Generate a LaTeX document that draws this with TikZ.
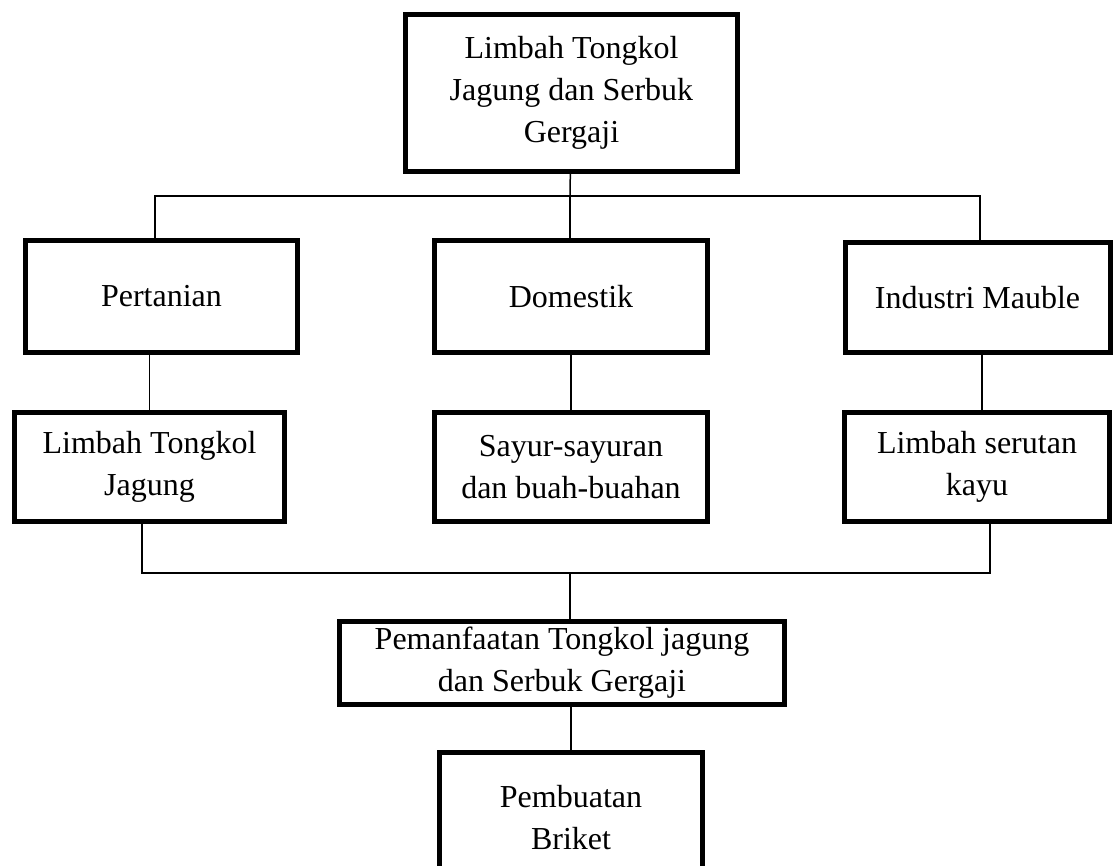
\documentclass[tikz,border=0pt]{standalone}
\usepackage{fontspec}
\setmainfont{Liberation Serif}
\usepackage{tikz}

\begin{document}
\begin{tikzpicture}[x=1pt,y=-1pt,
 box/.style={draw,line width=5pt,align=center,inner sep=0pt},
 link/.style={line width=1.5pt},
 font=\fontsize{32}{42}\selectfont]
\useasboundingbox (0,0) rectangle (1114,866);
\node[box,minimum width=332,minimum height=157] (A0) at (571.5,93) {Limbah Tongkol\\Jagung dan Serbuk\\Gergaji};
 \node[box,minimum width=272,minimum height=112] (B1) at (161.5,296.5) {Pertanian};
 \node[box,minimum width=273,minimum height=112] (B2) at (571,296.5) {Domestik};
 \node[box,minimum width=265,minimum height=110] (B3) at (977.5,298) {Industri Mauble};
 \node[box,minimum width=270,minimum height=109] (C1) at (149.5,467) {Limbah Tongkol\\Jagung};
 \node[box,minimum width=273,minimum height=109] (C2) at (571,467) {Sayur-sayuran\\dan buah-buahan};
 \node[box,minimum width=265,minimum height=109] (C3) at (977,467) {Limbah serutan\\kayu};
\node[box,minimum width=445,minimum height=83] (D0) at (562,663) {Pemanfaatan Tongkol jagung\\dan Serbuk Gergaji};
\node[box,minimum width=263,minimum height=132] (E0) at (571,818) {Pembuatan\\Briket};
\coordinate (J1) at (570,196);
\coordinate (J2) at (570,573);
 \draw [link] (A0) -- (J1);
 \draw [link] ([xshift=-6.5pt]B1.north) |- (J1) -| ([xshift=2.5pt]B3.north);
 \draw [link] (J1) -- (J1 |- B2.north);
\draw [link] (C1.north |- B1.south) -- (C1.north);
\draw [link] (B2) -- (C2);
\draw [link] ([xshift=4.5pt]B3.south) -- ([xshift=5pt]C3.north);
 \draw [link] ([xshift=-7.5pt]C1.south) |- (J2) -| ([xshift=13pt]C3.south);
 \draw [link] (J2) -- (J2 |- D0.north);
 \draw [link] (E0.north |- D0.south) -- (E0.north);
 \end{tikzpicture}
\end{document}
